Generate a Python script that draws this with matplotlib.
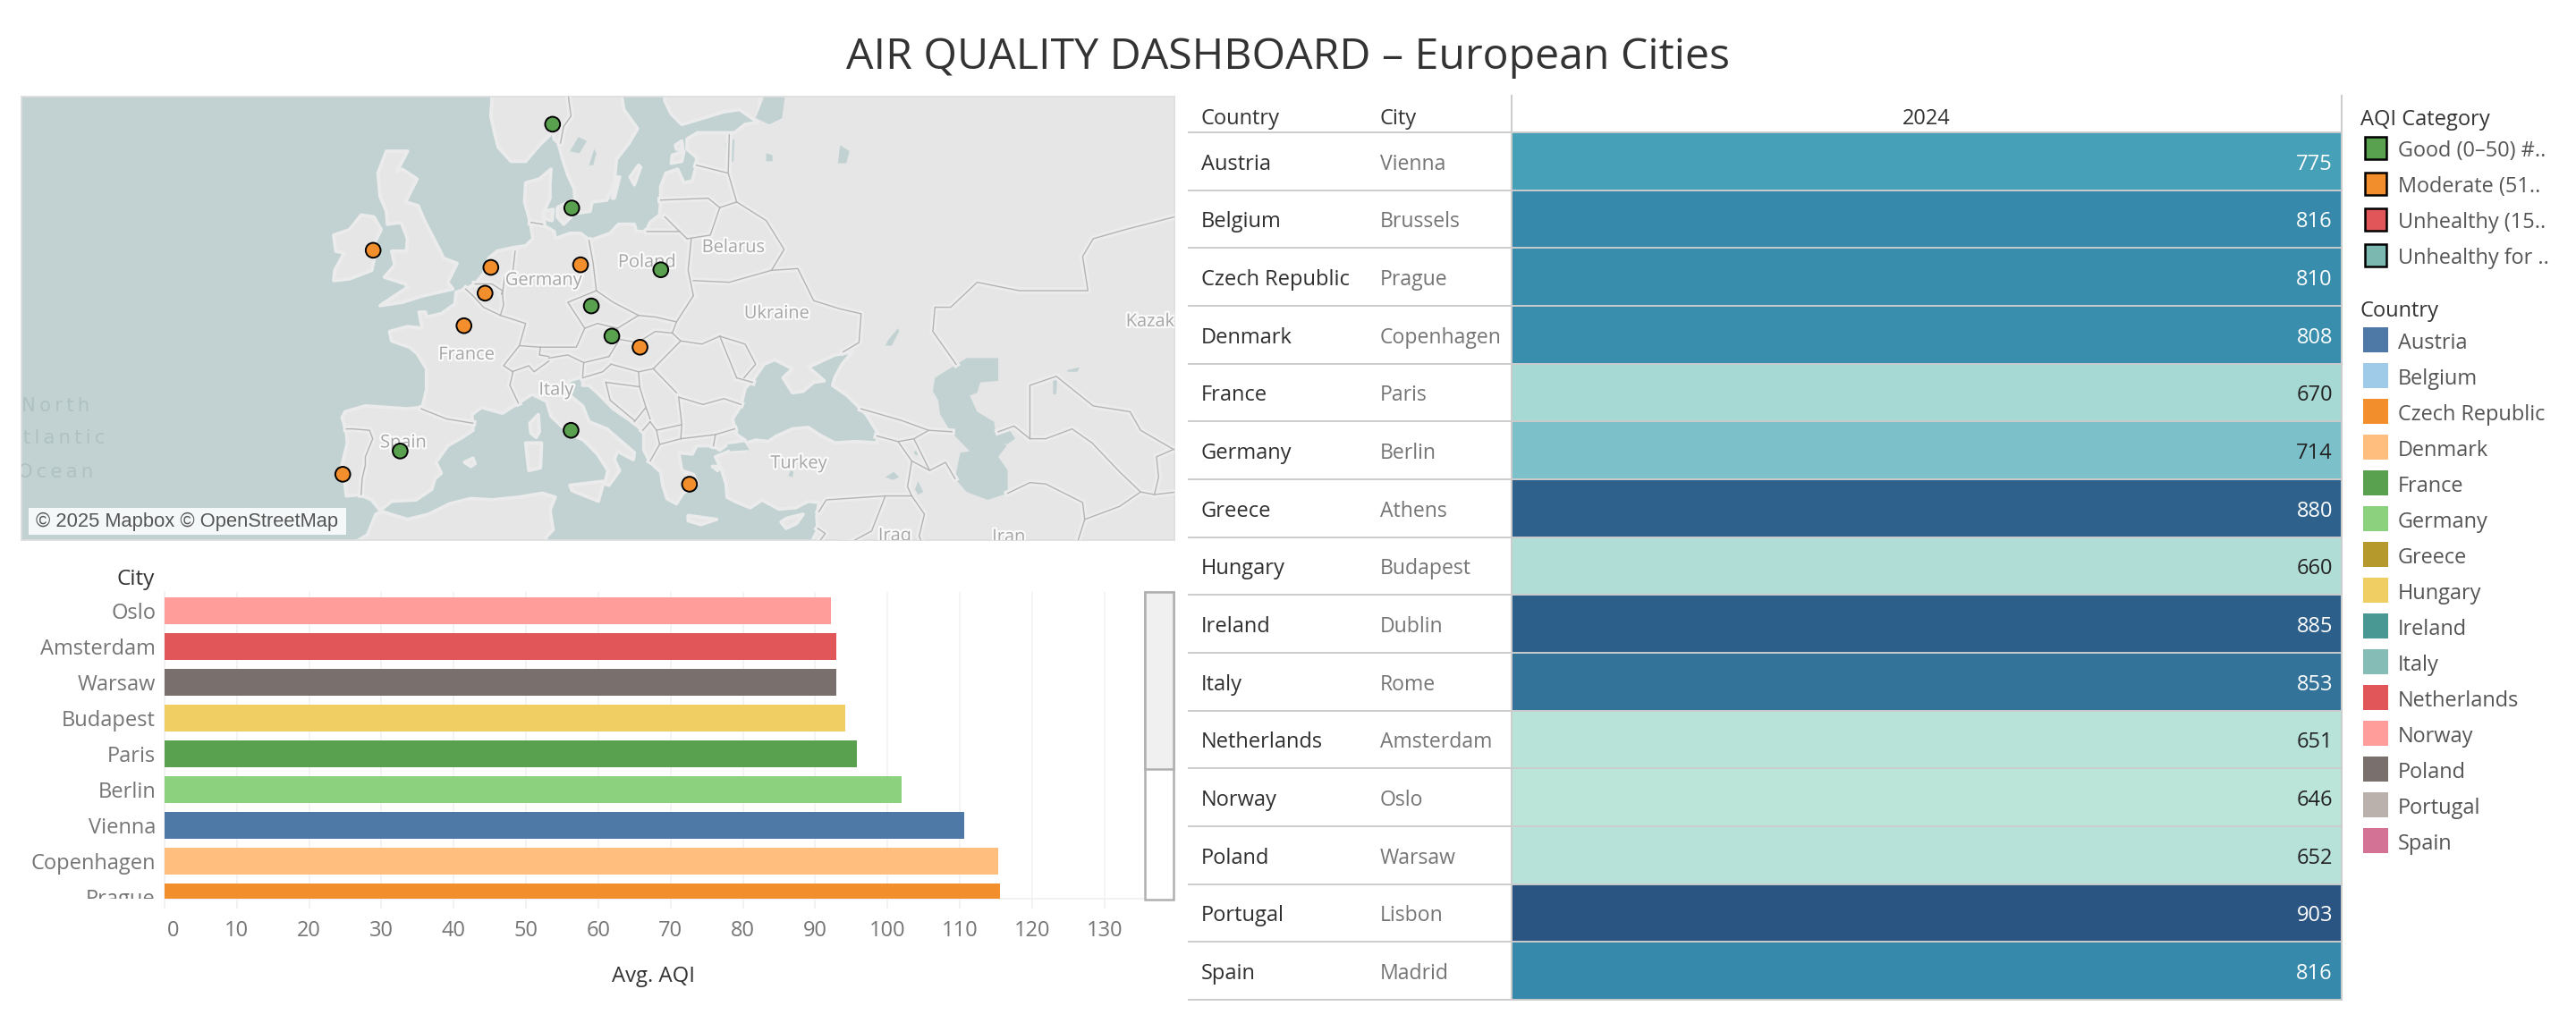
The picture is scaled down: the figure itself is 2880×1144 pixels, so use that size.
import numpy as np
import matplotlib
matplotlib.use('Agg')
import matplotlib.pyplot as plt
import matplotlib.patheffects as pe
from matplotlib.colors import LinearSegmentedColormap, Normalize
from matplotlib.patches import Polygon, Rectangle
from matplotlib.transforms import Bbox, ScaledTranslation

W, H = 2880, 1144
plt.rcParams['font.family'] = ['Open Sans', 'DejaVu Sans']

# table
countries = ['Austria', 'Belgium', 'Czech Republic', 'Denmark', 'France', 'Germany', 'Greece', 'Hungary',
             'Ireland', 'Italy', 'Netherlands', 'Norway', 'Poland', 'Portugal', 'Spain']
cities = ['Vienna', 'Brussels', 'Prague', 'Copenhagen', 'Paris', 'Berlin', 'Athens', 'Budapest',
          'Dublin', 'Rome', 'Amsterdam', 'Oslo', 'Warsaw', 'Lisbon', 'Madrid']
totals_2024 = [775, 816, 810, 808, 670, 714, 880, 660, 885, 853, 651, 646, 652, 903, 816]
country_colors = ['#4e79a7', '#a0cbe8', '#f28e2b', '#ffbe7d', '#59a14f', '#8cd17d', '#b6992d', '#f1ce63',
                  '#499894', '#86bcb6', '#e15759', '#ff9d9a', '#79706e', '#bab0ac', '#d37295']

# bar chart, already sorted as shown
bar_cities = ['Oslo', 'Amsterdam', 'Warsaw', 'Budapest', 'Paris', 'Berlin', 'Vienna', 'Copenhagen', 'Prague']
bar_aqi = [92.2, 92.9, 92.9, 94.2, 95.7, 101.9, 110.6, 115.3, 115.5]

# map points
lons = [16.37, 4.35, 14.42, 12.57, 2.35, 13.40, 23.73, 19.04, -6.26, 12.50, 4.90, 10.75, 21.01, -9.14, -3.70]
lats = [48.21, 50.85, 50.08, 55.68, 48.86, 52.52, 37.98, 47.50, 53.35, 41.90, 52.37, 59.91, 52.23, 38.72, 40.42]
categories = ['Good', 'Moderate', 'Good', 'Good', 'Moderate', 'Moderate', 'Moderate', 'Moderate',
              'Moderate', 'Good', 'Moderate', 'Good', 'Good', 'Moderate', 'Good']
cat_colors = {'Good': '#59a14f', 'Moderate': '#f28e2b'}
aqi_legend = ['Good (0–50) #..', 'Moderate (51..', 'Unhealthy (15..', 'Unhealthy for ..']
aqi_legend_colors = ['#59a14f', '#f28e2b', '#e15759', '#7ab8b0']

# rough basemap, lon/lat
eurasia = [(75, 64), (31, 64), (30.2, 60.0), (29.0, 59.9), (28.0, 59.5), (26, 59.5), (24.5, 59.5), (23.5, 59.2),
           (23.5, 58.7), (24.4, 58.3), (24.4, 57.9), (24.0, 57.1), (23.2, 57.0), (22.6, 57.7), (21.5, 57.5),
           (21.0, 56.8), (21.0, 56.0), (20.9, 55.3), (20.0, 54.9), (19.6, 54.4), (18.7, 54.4), (18.5, 54.8),
           (17.0, 54.8), (16.2, 54.3), (14.3, 53.9), (13.4, 54.3), (12.4, 54.3), (11.0, 54.0), (10.9, 54.4),
           (10.0, 54.7), (9.8, 55.3), (10.5, 56.2), (10.5, 57.0), (10.6, 57.7), (9.5, 57.2), (8.2, 57.0),
           (8.1, 56.0), (8.6, 55.0), (8.9, 54.0), (8.2, 53.6), (7.0, 53.5), (5.5, 53.3), (4.7, 52.9), (4.2, 52.0),
           (3.4, 51.4), (2.5, 51.1), (1.6, 50.9), (1.5, 50.2), (0.2, 49.6), (-1.2, 49.4), (-1.3, 49.7), (-1.9, 49.7),
           (-1.6, 48.7), (-3.0, 48.8), (-4.7, 48.5), (-4.5, 47.9), (-2.8, 47.5), (-2.1, 47.1), (-1.2, 46.1),
           (-1.2, 44.7), (-1.6, 43.5), (-3.0, 43.4), (-5.0, 43.5), (-7.0, 43.6), (-8.9, 43.2), (-9.2, 42.8),
           (-8.8, 41.8), (-8.7, 41.0), (-9.4, 38.8), (-9.0, 38.5), (-8.8, 37.1), (-7.5, 37.2), (-6.4, 36.8),
           (-5.6, 36.0), (-4.5, 36.7), (-2.2, 36.8), (-0.7, 37.6), (-0.4, 38.4), (0.2, 38.8), (-0.3, 39.6),
           (0.8, 40.8), (2.2, 41.4), (3.2, 41.9), (3.1, 43.0), (4.0, 43.5), (6.0, 43.1), (7.5, 43.8), (8.8, 44.4),
           (10.2, 43.9), (10.6, 42.9), (12.3, 41.7), (13.7, 41.2), (15.0, 40.2), (16.0, 39.0), (15.7, 38.0),
           (16.1, 37.9), (17.1, 39.0), (16.6, 39.8), (16.9, 40.4), (18.4, 39.8), (18.5, 40.3), (16.2, 41.8),
           (15.9, 42.0), (14.2, 42.5), (13.6, 43.6), (12.4, 44.3), (12.3, 45.3), (13.7, 45.6), (13.6, 45.0),
           (14.2, 45.0), (15.0, 44.5), (16.5, 43.4), (18.5, 42.4), (19.4, 41.8), (19.4, 40.5), (20.0, 39.6),
           (21.0, 38.9), (21.2, 37.9), (21.6, 36.9), (22.5, 36.5), (23.1, 37.3), (24.0, 37.7), (24.0, 38.2),
           (23.0, 39.0), (22.7, 40.3), (24.0, 40.2), (24.4, 40.8), (26.0, 40.8), (26.6, 40.5), (27.5, 41.0),
           (29.0, 41.2), (28.2, 41.6), (27.8, 42.7), (28.6, 43.6), (29.0, 44.8), (29.8, 45.4), (30.8, 46.4),
           (31.8, 46.7), (33.5, 46.1), (32.6, 45.5), (33.5, 44.5), (34.5, 44.6), (35.5, 45.2), (36.5, 45.3),
           (35.0, 46.2), (37.5, 47.0), (39.2, 47.2), (38.2, 46.4), (37.5, 45.5), (37.3, 45.0), (38.7, 44.3),
           (40.5, 43.0), (41.6, 41.7), (41.5, 41.0), (39.5, 41.1), (37.5, 41.0), (36.0, 41.6), (35.0, 42.1),
           (33.5, 42.0), (32.0, 41.5), (31.2, 41.1), (30.0, 41.2), (29.1, 41.0), (29.0, 40.4), (27.5, 40.4),
           (26.2, 40.0), (26.8, 39.0), (27.2, 38.0), (27.3, 37.0), (28.0, 36.7), (29.5, 36.2), (30.6, 36.8),
           (32.2, 36.1), (33.8, 36.2), (35.0, 36.7), (36.0, 36.6), (35.8, 35.5), (35.9, 34.5), (35.0, 33.0),
           (35.0, 30), (75, 30)]
scandinavia = [(5.0, 64), (5.0, 61), (4.9, 60.3), (5.3, 59.4), (5.6, 58.8), (6.8, 58.1), (8.2, 58.1), (9.5, 58.9),
               (10.5, 59.4), (10.7, 59.9), (10.9, 59.2), (11.3, 59.0), (11.7, 58.2), (12.2, 57.4), (12.8, 56.7),
               (12.9, 56.0), (13.0, 55.4), (14.3, 55.5), (14.5, 56.0), (15.9, 56.1), (16.6, 57.0), (16.8, 58.2),
               (18.0, 59.0), (18.8, 59.7), (17.5, 60.6), (17.2, 61.5), (17.3, 64)]
finland = [(21.3, 64), (21.3, 62), (21.4, 61), (22.0, 60.4), (23.0, 59.9), (25.0, 60.2), (27, 60.5), (28.5, 60.6),
           (30.2, 60.0), (31, 64)]
britain = [(-3.0, 58.6), (-5.0, 58.6), (-5.8, 57.5), (-5.6, 56.3), (-5.0, 55.5), (-4.9, 54.8), (-3.6, 54.9), (-3.0, 54.0),
           (-3.1, 53.3), (-4.5, 53.3), (-4.2, 52.5), (-5.2, 51.8), (-3.2, 51.4), (-3.0, 51.2), (-5.6, 50.1),
           (-3.5, 50.3), (-1.5, 50.7), (1.3, 51.1), (0.8, 51.5), (1.7, 52.6), (0.4, 52.9), (0.1, 53.3), (-1.4, 55.0),
           (-2.0, 55.8), (-3.2, 56.0), (-2.1, 57.2), (-3.5, 57.7), (-4.0, 57.6)]
ireland = [(-5.5, 54.5), (-6.2, 55.2), (-7.4, 55.3), (-8.5, 54.5), (-10.0, 54.2), (-9.8, 53.3), (-9.0, 53.2),
           (-9.9, 52.2), (-10.0, 51.6), (-8.5, 51.7), (-6.4, 52.2), (-6.1, 53.0), (-6.2, 53.7)]
north_africa = [(-9, 32), (-8.0, 33.5), (-6.8, 34.1), (-6.0, 35.7), (-5.4, 35.9), (-3.0, 35.3), (-1.0, 35.7), (1.0, 36.5),
                (3.0, 36.9), (5.0, 36.8), (7.5, 37.0), (9.8, 37.3), (11.0, 37.0), (10.5, 36.0), (10.8, 34.5), (10.1, 33.9),
                (10.5, 32)]
islands = [[(12.4, 37.9), (15.6, 38.2), (15.1, 36.7), (12.6, 37.5)],
           [(8.2, 41.0), (9.7, 41.0), (9.6, 39.2), (8.5, 39.0)],
           [(8.6, 42.4), (9.4, 43.0), (9.5, 41.8), (9.2, 41.4), (8.7, 41.7)],
           [(2.4, 39.6), (3.2, 39.9), (3.4, 39.5), (3.0, 39.3)],
           [(23.6, 35.6), (26.3, 35.3), (24.8, 34.9), (23.6, 35.2)],
           [(32.4, 35.1), (33.0, 35.4), (34.5, 35.7), (33.9, 35.0), (32.9, 34.6)],
           [(11.2, 55.7), (12.6, 56.1), (12.5, 55.2), (11.8, 54.8), (11.2, 55.2)],
           [(9.9, 55.5), (10.8, 55.6), (10.7, 55.0), (10.0, 55.1)],
           [(18.1, 57.3), (18.9, 57.9), (19.1, 57.8), (18.5, 56.9)],
           [(16.4, 56.2), (16.9, 57.3), (17.1, 57.3), (16.6, 56.2)],
           [(22.1, 58.4), (23.2, 58.6), (23.0, 58.1), (22.0, 58.0)],
           [(22.4, 58.9), (23.0, 59.1), (23.1, 58.7), (22.5, 58.7)],
           [(23.0, 39.0), (24.5, 38.0), (24.1, 38.7)],
           [(25.9, 39.3), (26.6, 39.3), (26.4, 39.0)]]
caspian = [(47, 45.5), (50, 46.8), (53, 46.8), (53, 45.3), (51.3, 45.2), (51, 44.5), (50.3, 44.3), (51.0, 43.2),
           (52.6, 42.5), (52.8, 41.5), (53.8, 40.8), (53.0, 40.0), (53.9, 39.0), (53.9, 37.3), (52, 36.8), (50.0, 37.4),
           (48.9, 38.4), (49.4, 40.3), (50.3, 40.4), (48.5, 41.8), (47.5, 43.0), (47.3, 44.0), (46.8, 44.6)]
lakes = [[(27.3, 40.9), (29.0, 41.0), (29.4, 40.5), (27.6, 40.4)],
         [(12.4, 58.6), (13.2, 59.3), (14.0, 59.1), (13.3, 58.5)],
         [(14.2, 57.9), (14.7, 58.7), (14.9, 58.5), (14.6, 57.9)],
         [(30.0, 60.2), (30.9, 61.3), (32.8, 61.3), (32.5, 60.2), (31.3, 59.9)],
         [(27.3, 58.0), (27.1, 59.0), (28.0, 59.2), (27.9, 58.1)],
         [(31.0, 58.1), (31.0, 58.5), (31.6, 58.4), (31.6, 58.1)],
         [(37.8, 58.0), (38.0, 58.9), (38.9, 58.6), (38.6, 58.0)],
         [(42.3, 47.6), (42.6, 48.0), (43.5, 48.7), (43.6, 48.5), (42.9, 47.6)],
         [(33.1, 38.6), (33.3, 39.0), (33.6, 38.9), (33.5, 38.5)],
         [(42.3, 38.5), (43.1, 38.9), (43.6, 38.5), (43.0, 38.3)],
         [(45.1, 37.6), (45.4, 38.2), (45.9, 37.4), (45.4, 37.2)],
         [(45.0, 40.3), (45.3, 40.6), (45.6, 40.2), (45.2, 40.1)],
         [(52.7, 41.8), (54.0, 42.0), (54.6, 41.3), (53.8, 40.9), (52.9, 41.2)],
         [(58.2, 44.4), (58.2, 45.5), (58.6, 45.5), (58.5, 44.4)],
         [(59.5, 46.0), (60.7, 46.2), (60.5, 45.9), (59.6, 45.9)]]
borders = [[(11.5, 59.0), (11.8, 59.8), (12.5, 60.3), (12.3, 61.0), (12.1, 62)],
           [(-1.7, 43.4), (0.7, 42.7), (3.2, 42.4)],
           [(-8.8, 42.0), (-8.2, 42.0), (-6.6, 41.9), (-6.3, 41.3), (-7.0, 40.0), (-7.0, 39.4), (-7.3, 38.4), (-7.4, 37.2)],
           [(2.5, 51.1), (3.2, 50.7), (4.2, 50.0), (5.8, 49.5), (8.2, 49.0), (7.6, 47.6), (6.1, 46.3), (7.0, 45.9), (6.7, 45.0), (7.5, 43.8)],
           [(3.4, 51.4), (5.0, 51.4), (6.0, 51.0), (5.9, 50.8)],
           [(6.0, 50.8), (6.1, 50.1), (5.8, 49.5)],
           [(6.0, 50.8), (6.2, 51.8), (7.0, 52.2), (7.2, 53.3)],
           [(8.7, 54.9), (9.8, 54.8)],
           [(14.2, 53.9), (14.6, 52.6), (14.9, 51.0)],
           [(14.9, 51.0), (12.2, 50.3), (13.8, 48.7)],
           [(13.8, 48.7), (13.0, 47.5), (10.5, 47.5), (9.6, 47.5)],
           [(7.6, 47.6), (9.6, 47.5)],
           [(6.9, 45.9), (8.5, 46.3), (9.0, 45.9), (10.4, 46.6)],
           [(9.6, 47.5), (9.5, 47.0), (10.4, 46.9)],
           [(10.4, 46.8), (12.2, 47.0), (13.7, 46.5)],
           [(13.8, 48.7), (15, 49.0), (16.9, 48.7)],
           [(16.9, 48.7), (17.1, 48.0), (16.1, 46.9)],
           [(13.7, 46.5), (16.1, 46.9)],
           [(13.7, 46.5), (13.6, 45.6)],
           [(13.6, 45.5), (15.5, 45.9), (16.3, 46.4)],
           [(16.3, 46.4), (18.9, 45.9)],
           [(18.9, 45.9), (20.3, 46.1)],
           [(20.3, 46.1), (22.9, 47.9)],
           [(17.1, 48.0), (18.8, 47.8), (20.5, 48.5), (22.1, 48.4)],
           [(22.1, 48.4), (22.9, 47.9)],
           [(16.9, 48.7), (18.9, 49.5)],
           [(14.9, 51.0), (16.5, 50.3), (18.9, 49.5)],
           [(18.9, 49.5), (20.5, 49.4), (22.5, 49.1)],
           [(22.5, 49.1), (22.1, 48.4)],
           [(22.5, 49.1), (24.1, 50.7)],
           [(24.1, 50.7), (23.6, 52.2), (23.9, 54.0)],
           [(23.5, 54.0), (22.8, 54.4)],
           [(19.7, 54.4), (22.8, 54.4), (21.4, 55.2)],
           [(21.0, 56.1), (25.5, 56.2), (26.6, 55.7)],
           [(23.5, 54.0), (25.7, 54.2), (26.6, 55.7)],
           [(24.4, 57.9), (27.4, 57.5)],
           [(26.6, 55.7), (28.2, 56.0)],
           [(28.2, 56.0), (27.4, 57.5), (27.5, 59.4)],
           [(28.2, 56.0), (31.0, 55.0), (32.7, 53.4), (31.5, 52.2)],
           [(24.1, 51.6), (27.5, 51.5), (31.5, 52.2)],
           [(31.5, 52.2), (34.0, 52.3), (35.5, 50.4), (38.0, 49.9), (40.0, 49.6), (39.8, 47.8), (38.3, 47.2)],
           [(22.9, 47.9), (24.9, 47.7), (26.6, 48.2)],
           [(26.6, 48.2), (29.0, 47.7), (30.0, 46.4), (28.9, 45.5)],
           [(26.6, 48.2), (28.2, 45.5)],
           [(20.3, 46.1), (22.5, 44.5)],
           [(22.7, 44.2), (25, 43.7), (27.0, 44.1), (28.6, 43.7)],
           [(28.2, 45.5), (29.7, 45.2)],
           [(18.9, 45.9), (19.0, 44.9)],
           [(15.8, 45.2), (19.0, 44.9)],
           [(15.8, 45.2), (16.2, 44.0), (18.5, 42.6)],
           [(19.0, 44.9), (19.6, 43.5), (18.5, 42.5)],
           [(19.3, 41.9), (20.0, 42.5)],
           [(19.6, 43.5), (20.0, 42.7)],
           [(22.7, 44.2), (23.0, 42.3)],
           [(20.6, 41.9), (23.0, 42.3)],
           [(20.0, 42.5), (20.6, 41.9)],
           [(20.6, 41.9), (20.9, 40.9), (20.0, 39.7)],
           [(20.9, 40.9), (22.9, 41.3)],
           [(23.0, 42.3), (22.9, 41.3)],
           [(22.9, 41.3), (26.2, 41.6), (26.0, 40.8)],
           [(26.2, 41.6), (28.0, 42.0)],
           [(41.5, 41.5), (43.5, 41.1), (44.8, 39.7), (44.4, 37.8), (44.8, 37.1)],
           [(44.8, 37.1), (42.3, 37.1), (36.7, 36.8), (36.0, 35.9)],
           [(40.0, 43.4), (43.8, 42.6), (46.4, 41.9), (48.6, 41.8)],
           [(46.4, 41.9), (45.0, 41.3), (43.5, 41.1)],
           [(45.0, 41.3), (46.5, 39.0)],
           [(44.8, 39.7), (46.5, 39.0), (48.0, 39.6), (48.9, 38.4)],
           [(44.8, 37.1), (46.0, 35.7), (45.5, 34), (46, 33)],
           [(42.3, 37.1), (41.0, 34.4), (39, 33.5)],
           [(72, 55), (69.7, 55.2), (65, 54.5), (62, 54), (61, 53), (61.5, 51), (58, 51), (55, 51), (51, 51.5), (48.5, 50), (47, 50), (46.8, 48.5), (49, 46.4)],
           [(53, 41.8), (54.5, 42.2), (56, 41.3), (56, 45), (58.5, 45.6), (62, 43.6), (65.5, 43.2), (66.5, 41.9), (69.7, 40.5), (72, 41)],
           [(56, 41.3), (57.5, 41.3), (60, 42), (61.9, 41), (64.5, 38.9), (66.5, 37.4)],
           [(53.9, 37.3), (56, 38.1), (57.5, 38), (61, 36.6), (61.2, 35.3), (60.5, 33.5), (60.8, 33)],
           [(61.2, 35.3), (64.5, 36.3), (66.5, 37.4), (67.8, 37.2), (71, 37.5)],
           [(67.8, 37.2), (68.2, 38.5), (68, 40), (71, 41)],
           [(35.9, 34.6), (36.6, 34.2), (35.8, 33.3), (39, 33.5)]]
map_labels = ['Belarus', 'Poland', 'Germany', 'Ukraine', 'France', 'Italy', 'Spain', 'Turkey', 'Iraq', 'Iran']
map_label_lon = [27.9, 19.7, 9.9, 32.0, 2.6, 11.1, -3.4, 34.1, 43.2, 54.0]
map_label_lat = [53.5, 52.65, 51.6, 49.6, 47.0, 44.66, 41.0, 39.5, 34.0, 33.9]


def px_axes(x0, y0, x1, y1):
    return fig.add_axes([x0 / W, 1 - y1 / H, (x1 - x0) / W, (y1 - y0) / H])


def merc(lat):
    return np.log(np.tan(np.pi / 4 + np.radians(lat) / 2))


def shape(points):
    pts = np.array(points, dtype=float)
    return np.column_stack([pts[:, 0], merc(pts[:, 1])])


fig = plt.figure(figsize=(W / 200, H / 200), dpi=200, facecolor='white')
fig.text(1440 / W, 1 - 64 / H, 'AIR QUALITY DASHBOARD – European Cities', ha='center', va='center',
         fontsize=17.4, color='#333333')

# map
water = '#c2d2d3'
land = '#e6e6e6'
ax_map = px_axes(24, 108, 1313, 604)
ax_map.set_facecolor(water)
ax_map.set_xlim(-39.6, 69.7)
ax_map.set_ylim(merc(33.68), merc(61.2))
ax_map.set_xticks([])
ax_map.set_yticks([])
for s in ax_map.spines.values():
    s.set_color('#dddddd')
    s.set_linewidth(0.6)
for poly in [eurasia, scandinavia, finland, britain, ireland, north_africa] + islands:
    ax_map.add_patch(Polygon(shape(poly), closed=True, facecolor=land, edgecolor='#ebebeb', lw=1.4,
                             joinstyle='round', zorder=1))
for poly in [caspian] + lakes:
    ax_map.add_patch(Polygon(shape(poly), closed=True, facecolor=water, edgecolor='none', zorder=2))
for line in borders:
    pts = shape(line)
    ax_map.plot(pts[:, 0], pts[:, 1], color='#ececec', lw=2.6, zorder=3, solid_joinstyle='round')
for line in borders:
    pts = shape(line)
    ax_map.plot(pts[:, 0], pts[:, 1], color='#b4b4b4', lw=0.5, zorder=4, solid_joinstyle='round')
halo = [pe.withStroke(linewidth=1.6, foreground='#fafafa')]
for name, lo, la in zip(map_labels, map_label_lon, map_label_lat):
    ax_map.text(lo, merc(la), name, ha='center', va='center', fontsize=7.2, color='#a6a6a6',
                path_effects=halo, zorder=5, clip_on=True)
ax_map.text(65.1, merc(49.1), 'Kazakhstan', ha='left', va='center', fontsize=7.2, color='#a6a6a6',
            path_effects=halo, zorder=5, clip_on=True)
for word, la in zip(['North', 'Atlantic', 'Ocean'], [43.6, 41.35, 38.9]):
    ax_map.text(-36.4, merc(la), '\u2009'.join(word), ha='center', va='center', fontsize=7.6, color='#b0c1c1',
                family='DejaVu Sans', zorder=5, clip_on=True)
ax_map.scatter(lons, merc(np.array(lats)), s=36, c=[cat_colors[c] for c in categories],
               edgecolors='black', linewidths=0.7, zorder=6)
ax_map.add_patch(Rectangle((8 / 1289, 6 / 496), 355 / 1289, 30 / 496, transform=ax_map.transAxes,
                           facecolor='white', alpha=0.85, edgecolor='none', zorder=7))
ax_map.text(16 / 1289, 21 / 496, '© 2025 Mapbox © OpenStreetMap', transform=ax_map.transAxes, ha='left',
            va='center', fontsize=7.9, color='#555555', family='Liberation Sans', zorder=8)

# bar chart
ax_bar = px_axes(184, 662, 1280, 1005)
y_pos = np.arange(len(bar_cities))
bar_colors = [country_colors[cities.index(c)] for c in bar_cities]
ax_bar.barh(y_pos, bar_aqi, height=0.75, color=bar_colors, zorder=3)
ax_bar.set_xlim(0, 135.6)
ax_bar.set_ylim(8.05, -0.525)
ax_bar.set_xticks(np.arange(0, 131, 10))
ax_bar.grid(axis='x', color='#f2f2f2', lw=0.6, zorder=0)
for s in ['top', 'right']:
    ax_bar.spines[s].set_visible(False)
for s in ['left', 'bottom']:
    ax_bar.spines[s].set_color('#f0f0f0')
    ax_bar.spines[s].set_linewidth(0.6)
ax_bar.tick_params(axis='x', length=4, width=0.6, color='#f0f0f0', labelsize=8.5, labelcolor='#757575', pad=4.5)
ax_bar.set_yticks(y_pos)
ax_bar.set_yticklabels(bar_cities)
ax_bar.tick_params(axis='y', length=0, labelsize=8.5, labelcolor='#757575', pad=3.6)
clip = Bbox.from_extents(0, H - 1005, W, H - 640)
for lab in ax_bar.get_yticklabels():
    lab.set_clip_box(clip)
    lab.set_clip_on(True)
zero_lab = ax_bar.get_xticklabels()[0]
zero_lab.set_ha('left')
zero_lab.set_transform(zero_lab.get_transform() + ScaledTranslation(3 / 200, 0, fig.dpi_scale_trans))

# overlay in pixels for table lines, headers and legends
ov = fig.add_axes([0, 0, 1, 1], zorder=10)
ov.set_xlim(0, W)
ov.set_ylim(H, 0)
ov.axis('off')
ov.patch.set_alpha(0)

ov.text(173, 648, 'City', ha='right', va='center', fontsize=8.8, color='#333333')
ov.text(730, 1092, 'Avg. AQI', ha='center', va='center', fontsize=8.6, color='#333333')

# scrollbar
ov.add_patch(Rectangle((1280, 662), 32, 344, facecolor='white', edgecolor='#b0b0b0', lw=0.9))
ov.add_patch(Rectangle((1280, 662), 32, 198, facecolor='#f0f0f0', edgecolor='#b0b0b0', lw=0.9))

# heat table
row_h = (1118 - 148) / len(countries)
ax_tab = px_axes(1690, 148, 2618, 1118)
stops = Normalize(646, 903)
cmap = LinearSegmentedColormap.from_list('aqi', [(stops(646), '#bce5da'), (stops(714), '#7cc1c9'),
                                                 (stops(775), '#46a0b8'), (stops(816), '#3689aa'),
                                                 (stops(853), '#33739a'), (stops(903), '#2a5583')])
ax_tab.pcolormesh(np.array(totals_2024).reshape(-1, 1), cmap=cmap, norm=stops)
ax_tab.set_ylim(len(countries), 0)
ax_tab.axis('off')

for i in range(len(countries)):
    yc = 148 + row_h * (i + 0.5) + 3.5
    ov.text(1343, yc, countries[i], ha='left', va='center', fontsize=8.5, color='#2f2f2f')
    ov.text(1543, yc, cities[i], ha='left', va='center', fontsize=8.3, color='#757575')
    ov.text(2608, yc, str(totals_2024[i]), ha='right', va='center', fontsize=8.5,
            color='white' if totals_2024[i] > 720 else '#222222')
for i in range(len(countries) + 1):
    ov.plot([1329, 2618], [148 + row_h * i] * 2, color='#cccccc', lw=0.7)
ov.plot([1690, 1690], [107, 1118], color='#cccccc', lw=0.7)
ov.plot([2618, 2618], [107, 1118], color='#cccccc', lw=0.7)
ov.text(1343, 133, 'Country', ha='left', va='center', fontsize=8.5, color='#333333')
ov.text(1543, 133, 'City', ha='left', va='center', fontsize=8.5, color='#333333')
ov.text(2154, 133, '2024', ha='center', va='center', fontsize=8.5, color='#333333')

# legends
ov.text(2639, 134, 'AQI Category', ha='left', va='center', fontsize=8.5, color='#333333')
for i, (label, col) in enumerate(zip(aqi_legend, aqi_legend_colors)):
    ov.add_patch(Rectangle((2644, 153 + 40 * i), 24, 25, facecolor=col, edgecolor='black', lw=0.9))
    ov.text(2681, 169 + 40 * i, label, ha='left', va='center', fontsize=8.45, color='#555555')
ov.text(2639, 348, 'Country', ha='left', va='center', fontsize=8.5, color='#333333')
for i, (label, col) in enumerate(zip(countries, country_colors)):
    ov.add_patch(Rectangle((2642, 366 + 40 * i), 28, 28, facecolor=col, edgecolor='none'))
    ov.text(2681, 383.5 + 40 * i, label, ha='left', va='center', fontsize=8.45, color='#555555')

fig.savefig('out.png', dpi=200)
